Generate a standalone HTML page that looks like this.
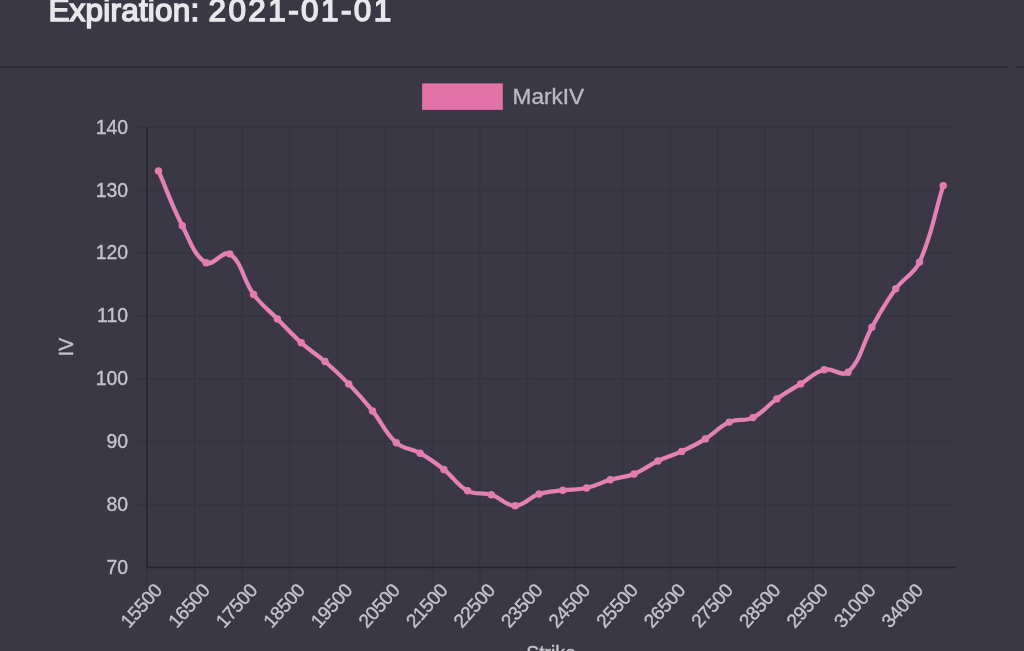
<!DOCTYPE html>
<html><head><meta charset="utf-8"><title>Expiration chart</title>
<style>
html,body{margin:0;padding:0;background:#3b3846;}
body{width:1024px;height:651px;overflow:hidden;position:relative;font-family:"Liberation Sans",sans-serif;}
.title{position:absolute;left:0;top:-10.0px;width:600px;height:40px;font-size:31.5px;line-height:40px;font-weight:normal;color:#e9e7ec;-webkit-text-stroke:1.5px #e9e7ec;white-space:nowrap;margin:0}
.title span{position:absolute;top:0;display:block;transform-origin:0 0}
.title .a{left:48.4px;letter-spacing:0.2px}
.title .d{left:208.5px;letter-spacing:2.4px}
.rule{position:absolute;left:0;top:66px;width:1007.5px;height:1.8px;background:#2c2a36}
.rule.r2{left:1016px;width:8px}
svg text{font-family:"Liberation Sans",sans-serif;stroke:#c5c3ca;stroke-width:0.35px;}
</style></head><body>
<h2 class="title"><span class="a">Expiration:</span> <span class="d">2021-01-01</span></h2>
<div class="rule"></div><div class="rule r2"></div>
<svg width="1024" height="651" viewBox="0 0 1024 651" style="position:absolute;left:0;top:0">
<line x1="194.6" y1="127.0" x2="194.6" y2="584.4" stroke="#35333f" stroke-width="1.4"/>
<line x1="242.1" y1="127.0" x2="242.1" y2="584.4" stroke="#35333f" stroke-width="1.4"/>
<line x1="289.7" y1="127.0" x2="289.7" y2="584.4" stroke="#35333f" stroke-width="1.4"/>
<line x1="337.2" y1="127.0" x2="337.2" y2="584.4" stroke="#35333f" stroke-width="1.4"/>
<line x1="384.8" y1="127.0" x2="384.8" y2="584.4" stroke="#35333f" stroke-width="1.4"/>
<line x1="432.4" y1="127.0" x2="432.4" y2="584.4" stroke="#35333f" stroke-width="1.4"/>
<line x1="479.9" y1="127.0" x2="479.9" y2="584.4" stroke="#35333f" stroke-width="1.4"/>
<line x1="527.5" y1="127.0" x2="527.5" y2="584.4" stroke="#35333f" stroke-width="1.4"/>
<line x1="575.0" y1="127.0" x2="575.0" y2="584.4" stroke="#35333f" stroke-width="1.4"/>
<line x1="622.6" y1="127.0" x2="622.6" y2="584.4" stroke="#35333f" stroke-width="1.4"/>
<line x1="670.2" y1="127.0" x2="670.2" y2="584.4" stroke="#35333f" stroke-width="1.4"/>
<line x1="717.7" y1="127.0" x2="717.7" y2="584.4" stroke="#35333f" stroke-width="1.4"/>
<line x1="765.3" y1="127.0" x2="765.3" y2="584.4" stroke="#35333f" stroke-width="1.4"/>
<line x1="812.8" y1="127.0" x2="812.8" y2="584.4" stroke="#35333f" stroke-width="1.4"/>
<line x1="860.4" y1="127.0" x2="860.4" y2="584.4" stroke="#35333f" stroke-width="1.4"/>
<line x1="908.0" y1="127.0" x2="908.0" y2="584.4" stroke="#35333f" stroke-width="1.4"/>
<line x1="136.0" y1="127.0" x2="955.5" y2="127.0" stroke="#35333f" stroke-width="1.4"/>
<line x1="136.0" y1="189.9" x2="955.5" y2="189.9" stroke="#35333f" stroke-width="1.4"/>
<line x1="136.0" y1="252.8" x2="955.5" y2="252.8" stroke="#35333f" stroke-width="1.4"/>
<line x1="136.0" y1="315.7" x2="955.5" y2="315.7" stroke="#35333f" stroke-width="1.4"/>
<line x1="136.0" y1="378.7" x2="955.5" y2="378.7" stroke="#35333f" stroke-width="1.4"/>
<line x1="136.0" y1="441.6" x2="955.5" y2="441.6" stroke="#35333f" stroke-width="1.4"/>
<line x1="136.0" y1="504.5" x2="955.5" y2="504.5" stroke="#35333f" stroke-width="1.4"/>
<line x1="147.0" y1="567.4" x2="147.0" y2="584.4" stroke="#35333f" stroke-width="1.4"/>
<line x1="147.0" y1="127.0" x2="147.0" y2="568.1999999999999" stroke="#262430" stroke-width="1.6"/>
<line x1="146.2" y1="567.4" x2="955.5" y2="567.4" stroke="#262430" stroke-width="1.6"/>
<text x="128.0" y="126.6" text-anchor="end" dominant-baseline="central" font-size="19.4" fill="#c5c3ca">140</text>
<text x="128.0" y="189.5" text-anchor="end" dominant-baseline="central" font-size="19.4" fill="#c5c3ca">130</text>
<text x="128.0" y="252.4" text-anchor="end" dominant-baseline="central" font-size="19.4" fill="#c5c3ca">120</text>
<text x="128.0" y="315.3" text-anchor="end" dominant-baseline="central" font-size="19.4" fill="#c5c3ca">110</text>
<text x="128.0" y="378.3" text-anchor="end" dominant-baseline="central" font-size="19.4" fill="#c5c3ca">100</text>
<text x="128.0" y="441.2" text-anchor="end" dominant-baseline="central" font-size="19.4" fill="#c5c3ca">90</text>
<text x="128.0" y="504.1" text-anchor="end" dominant-baseline="central" font-size="19.4" fill="#c5c3ca">80</text>
<text x="128.0" y="567.0" text-anchor="end" dominant-baseline="central" font-size="19.4" fill="#c5c3ca">70</text>
<text transform="translate(158.3,586.8) rotate(-48)" text-anchor="end" dominant-baseline="central" font-size="19.1" letter-spacing="-0.45" fill="#c5c3ca">15500</text>
<text transform="translate(205.9,586.8) rotate(-48)" text-anchor="end" dominant-baseline="central" font-size="19.1" letter-spacing="-0.45" fill="#c5c3ca">16500</text>
<text transform="translate(253.4,586.8) rotate(-48)" text-anchor="end" dominant-baseline="central" font-size="19.1" letter-spacing="-0.45" fill="#c5c3ca">17500</text>
<text transform="translate(301.0,586.8) rotate(-48)" text-anchor="end" dominant-baseline="central" font-size="19.1" letter-spacing="-0.45" fill="#c5c3ca">18500</text>
<text transform="translate(348.5,586.8) rotate(-48)" text-anchor="end" dominant-baseline="central" font-size="19.1" letter-spacing="-0.45" fill="#c5c3ca">19500</text>
<text transform="translate(396.1,586.8) rotate(-48)" text-anchor="end" dominant-baseline="central" font-size="19.1" letter-spacing="-0.45" fill="#c5c3ca">20500</text>
<text transform="translate(443.7,586.8) rotate(-48)" text-anchor="end" dominant-baseline="central" font-size="19.1" letter-spacing="-0.45" fill="#c5c3ca">21500</text>
<text transform="translate(491.2,586.8) rotate(-48)" text-anchor="end" dominant-baseline="central" font-size="19.1" letter-spacing="-0.45" fill="#c5c3ca">22500</text>
<text transform="translate(538.8,586.8) rotate(-48)" text-anchor="end" dominant-baseline="central" font-size="19.1" letter-spacing="-0.45" fill="#c5c3ca">23500</text>
<text transform="translate(586.3,586.8) rotate(-48)" text-anchor="end" dominant-baseline="central" font-size="19.1" letter-spacing="-0.45" fill="#c5c3ca">24500</text>
<text transform="translate(633.9,586.8) rotate(-48)" text-anchor="end" dominant-baseline="central" font-size="19.1" letter-spacing="-0.45" fill="#c5c3ca">25500</text>
<text transform="translate(681.5,586.8) rotate(-48)" text-anchor="end" dominant-baseline="central" font-size="19.1" letter-spacing="-0.45" fill="#c5c3ca">26500</text>
<text transform="translate(729.0,586.8) rotate(-48)" text-anchor="end" dominant-baseline="central" font-size="19.1" letter-spacing="-0.45" fill="#c5c3ca">27500</text>
<text transform="translate(776.6,586.8) rotate(-48)" text-anchor="end" dominant-baseline="central" font-size="19.1" letter-spacing="-0.45" fill="#c5c3ca">28500</text>
<text transform="translate(824.1,586.8) rotate(-48)" text-anchor="end" dominant-baseline="central" font-size="19.1" letter-spacing="-0.45" fill="#c5c3ca">29500</text>
<text transform="translate(871.7,586.8) rotate(-48)" text-anchor="end" dominant-baseline="central" font-size="19.1" letter-spacing="-0.45" fill="#c5c3ca">31000</text>
<text transform="translate(919.3,586.8) rotate(-48)" text-anchor="end" dominant-baseline="central" font-size="19.1" letter-spacing="-0.45" fill="#c5c3ca">34000</text>
<text transform="translate(66,347) rotate(-90)" text-anchor="middle" dominant-baseline="central" font-size="19.4" fill="#c5c3ca">IV</text>
<text x="551" y="659.5" text-anchor="middle" font-size="19.4" fill="#c5c3ca">Strike</text>
<rect x="422.1" y="83.4" width="80.7" height="26.5" fill="#e074a6"/>
<text x="512.6" y="96.3" dominant-baseline="central" font-size="22.6" fill="#bbb9c2" style="stroke:#bbb9c2">MarkIV</text>
<path d="M158.5 170.9 C168.0 192.8 171.3 204.5 182.3 225.7 C190.4 241.3 194.0 255.6 206.1 262.8 C213.0 266.9 223.2 249.5 229.8 253.9 C242.2 262.1 242.6 279.3 253.6 294.4 C261.6 305.3 267.8 309.2 277.4 318.9 C286.8 328.5 291.2 333.7 301.2 342.7 C310.2 350.8 315.8 353.6 325.0 361.5 C334.8 370.0 339.7 374.5 348.7 383.9 C358.7 394.3 363.5 399.7 372.5 410.9 C382.5 423.2 384.8 432.5 396.3 442.7 C403.8 449.4 411.1 448.1 420.1 453.2 C430.1 458.8 434.8 462.4 443.9 469.5 C453.9 477.4 456.8 485.0 467.6 490.8 C475.8 495.2 482.3 491.9 491.4 494.8 C501.3 497.9 505.8 506.0 515.2 505.8 C524.8 505.6 529.0 497.3 539.0 494.0 C548.0 491.1 553.2 491.5 562.8 490.3 C572.2 489.1 577.3 490.1 586.5 488.0 C596.3 485.8 600.7 482.5 610.3 479.7 C619.7 476.9 625.1 477.5 634.1 474.0 C644.1 470.1 648.1 465.6 657.9 461.0 C667.1 456.6 672.4 455.7 681.7 451.4 C691.4 446.9 696.3 444.5 705.4 438.9 C715.3 432.8 718.8 426.8 729.2 422.1 C737.9 418.2 744.5 421.7 753.0 417.6 C763.6 412.4 766.9 405.9 776.8 398.9 C785.9 392.4 791.0 389.8 800.6 383.9 C810.0 378.1 814.1 372.2 824.3 369.7 C833.2 367.5 842.0 377.6 848.1 372.2 C861.1 360.6 861.8 344.9 871.9 327.2 C880.8 311.5 885.1 303.3 895.7 288.8 C904.1 277.3 913.6 274.8 919.5 262.1 C932.6 233.6 933.7 216.2 943.2 185.6" fill="none" stroke="#e482b3" stroke-width="4.2" stroke-linejoin="round" stroke-linecap="butt"/>
<circle cx="158.5" cy="170.9" r="3.7" fill="#e27dae"/>
<circle cx="182.3" cy="225.7" r="3.7" fill="#e27dae"/>
<circle cx="206.1" cy="262.8" r="3.7" fill="#e27dae"/>
<circle cx="229.8" cy="253.9" r="3.7" fill="#e27dae"/>
<circle cx="253.6" cy="294.4" r="3.7" fill="#e27dae"/>
<circle cx="277.4" cy="318.9" r="3.7" fill="#e27dae"/>
<circle cx="301.2" cy="342.7" r="3.7" fill="#e27dae"/>
<circle cx="325.0" cy="361.5" r="3.7" fill="#e27dae"/>
<circle cx="348.7" cy="383.9" r="3.7" fill="#e27dae"/>
<circle cx="372.5" cy="410.9" r="3.7" fill="#e27dae"/>
<circle cx="396.3" cy="442.7" r="3.7" fill="#e27dae"/>
<circle cx="420.1" cy="453.2" r="3.7" fill="#e27dae"/>
<circle cx="443.9" cy="469.5" r="3.7" fill="#e27dae"/>
<circle cx="467.6" cy="490.8" r="3.7" fill="#e27dae"/>
<circle cx="491.4" cy="494.8" r="3.7" fill="#e27dae"/>
<circle cx="515.2" cy="505.8" r="3.7" fill="#e27dae"/>
<circle cx="539.0" cy="494.0" r="3.7" fill="#e27dae"/>
<circle cx="562.8" cy="490.3" r="3.7" fill="#e27dae"/>
<circle cx="586.5" cy="488.0" r="3.7" fill="#e27dae"/>
<circle cx="610.3" cy="479.7" r="3.7" fill="#e27dae"/>
<circle cx="634.1" cy="474.0" r="3.7" fill="#e27dae"/>
<circle cx="657.9" cy="461.0" r="3.7" fill="#e27dae"/>
<circle cx="681.7" cy="451.4" r="3.7" fill="#e27dae"/>
<circle cx="705.4" cy="438.9" r="3.7" fill="#e27dae"/>
<circle cx="729.2" cy="422.1" r="3.7" fill="#e27dae"/>
<circle cx="753.0" cy="417.6" r="3.7" fill="#e27dae"/>
<circle cx="776.8" cy="398.9" r="3.7" fill="#e27dae"/>
<circle cx="800.6" cy="383.9" r="3.7" fill="#e27dae"/>
<circle cx="824.3" cy="369.7" r="3.7" fill="#e27dae"/>
<circle cx="848.1" cy="372.2" r="3.7" fill="#e27dae"/>
<circle cx="871.9" cy="327.2" r="3.7" fill="#e27dae"/>
<circle cx="895.7" cy="288.8" r="3.7" fill="#e27dae"/>
<circle cx="919.5" cy="262.1" r="3.7" fill="#e27dae"/>
<circle cx="943.2" cy="185.6" r="3.7" fill="#e27dae"/>
</svg>
</body></html>
